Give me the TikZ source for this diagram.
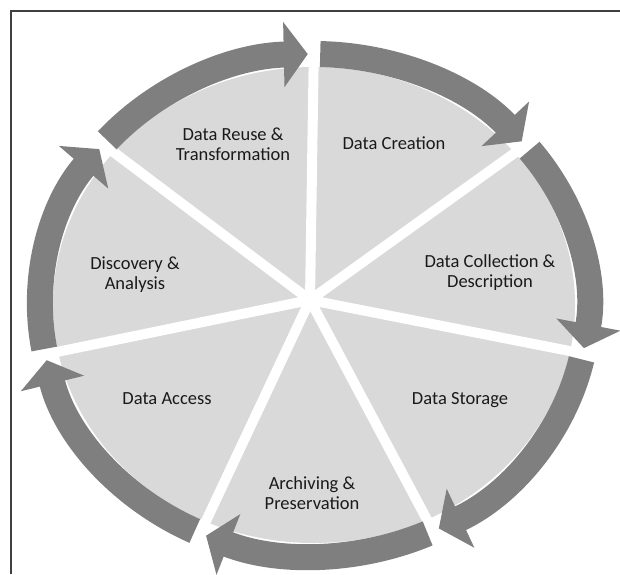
\documentclass[tikz,border=0pt]{standalone}
\usepackage{xcolor}
\usepackage{fontspec}
\setmainfont{Carlito}
\usepackage{tikz}
\usetikzlibrary{arrows.meta}
\usetikzlibrary{positioning}
\usetikzlibrary{calc}

\definecolor{bandgray}{HTML}{7F7F7F}
\definecolor{piegray}{HTML}{D9D9D9}
\definecolor{framegray}{HTML}{404040}
\definecolor{textdark}{HTML}{1A1A1A}

\tikzset{
  cyclearrow/.style={draw=bandgray, line width=26pt, line cap=butt,
    arrows = {-Triangle[width=64pt, length=24pt]}},
  spoke/.style={draw=white, line width=10pt},
  stagelabel/.style={align=center, text=textdark, inner sep=0pt,
    font=\fontsize{18.5}{20}\selectfont}
}

\begin{document}
\begin{tikzpicture}[x=1pt, y=1pt]
\useasboundingbox (0,0) rectangle (620,574);
\draw[framegray, line width=1.5pt] (11,0) -- (11,563) -- (620,563);
\coordinate (mid) at (314,269);
\coordinate (hub) at (310,274);
\fill[piegray] (mid) ellipse [x radius=261, y radius=238];
\draw[spoke] (hub) -- ($(mid)+(90:290 and 266)$);
\draw[spoke] (hub) -- ($(mid)+(39.4:290 and 266)$);
\draw[spoke] (hub) -- ($(mid)+(-11.2:290 and 266)$);
\draw[spoke] (hub) -- ($(mid)+(-64.2:290 and 266)$);
\draw[spoke] (hub) -- ($(mid)+(-114.5:290 and 266)$);
\draw[spoke] (hub) -- ($(mid)+(191.4:290 and 266)$);
\draw[spoke] (hub) -- ($(mid)+(140.3:290 and 266)$);
\draw[cyclearrow] (mid) ++(139.0:274 and 251) arc [start angle=139.0, end angle=91.3, x radius=274, y radius=251];
\draw[cyclearrow] (mid) ++(88.7:274 and 251) arc [start angle=88.7, end angle=40.7, x radius=274, y radius=251];
\draw[cyclearrow] (mid) ++(38.1:274 and 251) arc [start angle=38.1, end angle=-9.9, x radius=274, y radius=251];
\draw[cyclearrow] (mid) ++(-12.5:274 and 251) arc [start angle=-12.5, end angle=-62.9, x radius=274, y radius=251];
\draw[cyclearrow] (mid) ++(-65.5:274 and 251) arc [start angle=-65.5, end angle=-113.2, x radius=274, y radius=251];
\draw[cyclearrow] (mid) ++(-115.8:274 and 251) arc [start angle=-115.8, end angle=-167.3, x radius=274, y radius=251];
\draw[cyclearrow] (mid) ++(190.1:274 and 251) arc [start angle=190.1, end angle=141.6, x radius=274, y radius=251];
\node[stagelabel] (reuse) at (233,430) {Data Reuse \&\\Transformation};
\node[stagelabel] (creation) at (394,431) {Data Creation};
\node[stagelabel] (collection) at (490,301) {Data Collection \&\\Description};
\node[stagelabel] (storage) at (460,174) {Data Storage};
\node[stagelabel] (archiving) at (312,81) {Archiving \&\\Preservation};
\node[stagelabel] (access) at (167,175) {Data Access};
\node[stagelabel] (discovery) at (135,299) {Discovery \&\\Analysis};
\end{tikzpicture}
\end{document}
